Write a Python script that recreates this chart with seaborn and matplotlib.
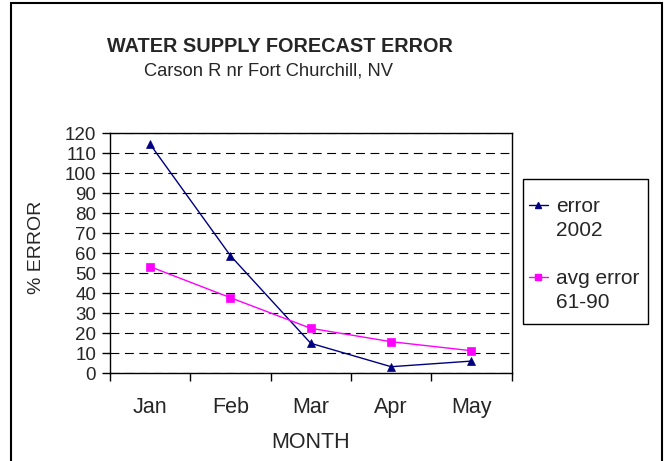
import matplotlib
matplotlib.use("Agg")
import matplotlib.pyplot as plt
import matplotlib.patches as mpatches
from matplotlib.lines import Line2D
import seaborn as sns
import pandas as pd

months = ["Jan", "Feb", "Mar", "Apr", "May"]
error_2002 = [114.5, 58.8, 15.0, 3.3, 6.1]
avg_error_61_90 = [53.3, 37.8, 22.5, 15.8, 11.3]
series_names = ["error 2002", "avg error 61-90"]
y_ticks = list(range(0, 121, 10))

title = "WATER SUPPLY FORECAST ERROR"
subtitle = "Carson R nr Fort Churchill, NV"

df = pd.DataFrame({
    "month": months * 2,
    "value": error_2002 + avg_error_61_90,
    "series": [series_names[0]] * len(months) + [series_names[1]] * len(months),
})

sns.set_theme(style="white")
plt.rcParams["font.family"] = ["Liberation Sans", "DejaVu Sans"]

W, H = 667, 461
fig = plt.figure(figsize=(W / 100, H / 100), dpi=100)
ax = fig.add_axes([110 / W, 1 - 373.3 / H, 401.5 / W, 240 / H])

colors = {series_names[0]: "#000080", series_names[1]: "#FF00FF"}
markers = {series_names[0]: "^", series_names[1]: "s"}
sns.lineplot(data=df, x="month", y="value", hue="series", style="series",
             palette=colors, markers=markers, dashes=False, sort=False,
             markersize=6, linewidth=1.0, legend=False, ax=ax)
for ln in ax.lines:
    ln.set_markeredgecolor(ln.get_color())
    ln.set_markeredgewidth(0.5)

ax.set_xlim(-0.5, len(months) - 0.5)
ax.set_ylim(0, 120)
ax.set_yticks(y_ticks)
ax.set_yticklabels([str(v) for v in y_ticks], fontsize=13.5)
ax.set_xticks(range(len(months)))
ax.set_xticklabels(months, fontsize=15.5)
ax.set_xticks([i - 0.5 for i in range(len(months) + 1)], minor=True)
ax.tick_params(axis="x", which="major", length=0, pad=17)
ax.tick_params(axis="x", which="minor", length=6, width=1, color="black", direction="out", bottom=True)
ax.tick_params(axis="y", which="major", length=6, width=1, color="black", direction="out", left=True, pad=4)

ax.yaxis.grid(True, linestyle=(0, (8, 5)), color="black", linewidth=0.8)
ax.xaxis.grid(False)
for s in ax.spines.values():
    s.set_color("black")
    s.set_linewidth(1.0)

ax.set_xlabel("MONTH", fontsize=15.5, labelpad=10)
ax.set_ylabel("% ERROR", fontsize=14)
ax.yaxis.set_label_coords(-0.162, 0.525)

fig.text(280 / W, 1 - 51.5 / H, title, ha="center", va="baseline", fontsize=14.3, fontweight="bold")
fig.text(268 / W, 1 - 75 / H, subtitle, ha="center", va="baseline", fontsize=13.2)

# legend box
fig.patches.append(mpatches.Rectangle((523 / W, 1 - 324 / H), (648 - 523) / W, (324 - 179) / H,
                                      transform=fig.transFigure, fill=True, facecolor="white",
                                      edgecolor="black", linewidth=1.0))

handles = [
    Line2D([], [], color=colors[series_names[0]], marker="^", markersize=5, lw=1),
    Line2D([], [], color="none"),
    Line2D([], [], color="none"),
    Line2D([], [], color=colors[series_names[1]], marker="s", markersize=5, lw=1),
    Line2D([], [], color="none"),
]
labels = ["error", "2002", " ", "avg error", "61-90"]
leg = fig.legend(handles, labels, loc="upper left",
                 bbox_to_anchor=(529 / W, 1 - 197.5 / H), bbox_transform=fig.transFigure,
                 fontsize=15, frameon=False, handlelength=0.9,
                 handletextpad=0.4, labelspacing=0.24, borderpad=0, borderaxespad=0)

fig.patches.append(mpatches.Rectangle((11 / W, -0.02), (662 - 11) / W, 1.02 - 3 / H,
                                      transform=fig.transFigure, fill=False,
                                      edgecolor="black", linewidth=1.5))

fig.savefig("out.png", dpi=100)
